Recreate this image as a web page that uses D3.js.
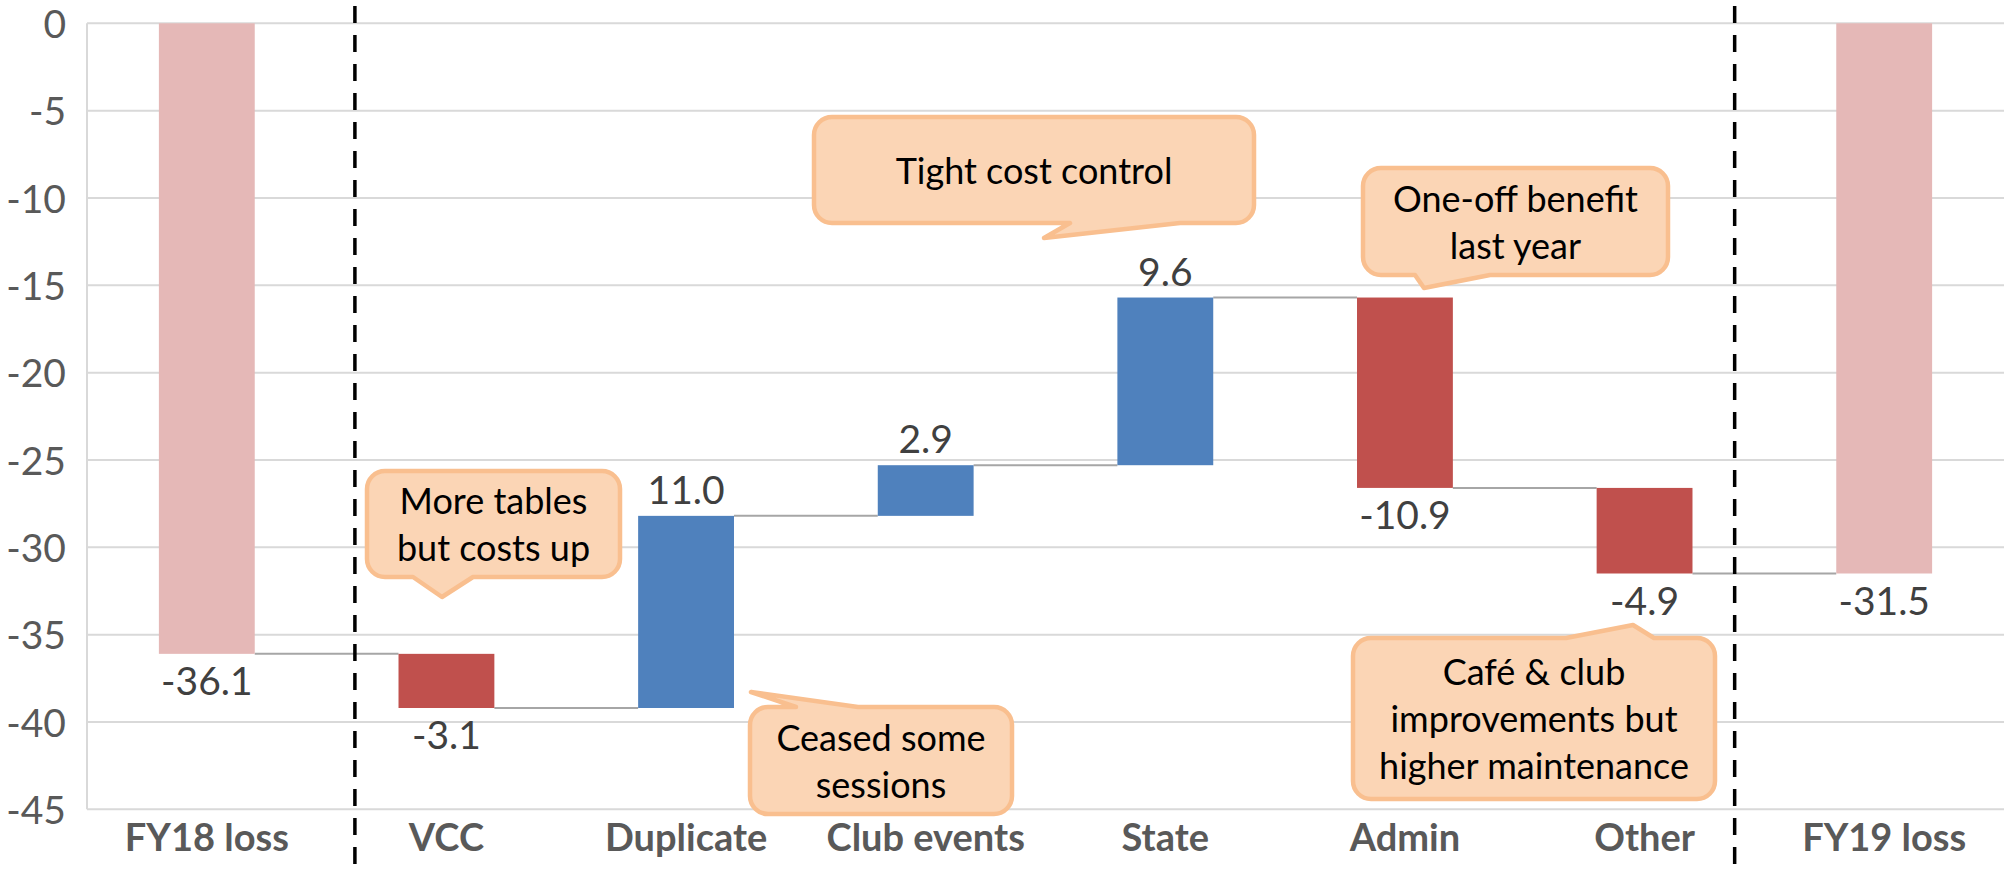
<!DOCTYPE html>
<html>
<head>
<meta charset="utf-8">
<script src="https://cdn.jsdelivr.net/npm/d3@7"></script>
<style>
  html, body { margin: 0; padding: 0; background: #fff; }
  svg { display: block; }
</style>
</head>
<body>
<svg id="chart" width="2006" height="876"></svg>
<script>
// ---- data ----
const categories = ["FY18 loss", "VCC", "Duplicate", "Club events", "State", "Admin", "Other", "FY19 loss"];
const changes    = [-36.1, -3.1, 11.0, 2.9, 9.6, -10.9, -4.9, -31.5];
const isTotal    = [true, false, false, false, false, false, false, true];
const labels     = ["-36.1", "-3.1", "11.0", "2.9", "9.6", "-10.9", "-4.9", "-31.5"];
const yTicks     = [0, -5, -10, -15, -20, -25, -30, -35, -40, -45];

const calloutTexts = [
  ["More tables", "but costs up"],
  ["Ceased some", "sessions"],
  ["Tight cost control"],
  ["One-off benefit", "last year"],
  ["Café & club", "improvements but", "higher maintenance"]
];

// ---- layout (annotation geometry, pixels) ----
const calloutLayout = [
  { x: 367,  y: 471, w: 253, h: 106, side: "bottom", b1: 413,  b2: 473,  tip: [442, 597] },
  { x: 750,  y: 707, w: 262, h: 107, side: "top",    b1: 796,  b2: 858,  tip: [751, 692] },
  { x: 814,  y: 117, w: 440, h: 106, side: "bottom", b1: 1070, b2: 1180, tip: [1044, 238] },
  { x: 1363, y: 168, w: 305, h: 107, side: "bottom", b1: 1415, b2: 1490, tip: [1424, 288] },
  { x: 1353, y: 638, w: 362, h: 161, side: "top",    b1: 1566, b2: 1654, tip: [1633, 625] }
];

const svg = d3.select("#chart");
const FONT = "Lato, 'Open Sans', sans-serif";

const x = d3.scaleBand().domain(categories).range([87, 2004]).paddingInner(0.6).paddingOuter(0.3);
const y = d3.scaleLinear().domain([-45, 0]).range([809.3, 23.3]);

// compute waterfall segments
let running = 0;
const bars = categories.map((c, i) => {
  let start, end;
  if (isTotal[i]) { start = 0; end = changes[i]; }
  else { start = running; end = running + changes[i]; }
  running = end;
  return { cat: c, start, end, value: changes[i], total: isTotal[i], label: labels[i] };
});

// gridlines
svg.append("g").selectAll("line").data(yTicks).join("line")
  .attr("x1", 87).attr("x2", 2004)
  .attr("y1", d => y(d)).attr("y2", d => y(d))
  .attr("stroke", "#D9D9D9").attr("stroke-width", 2);

// left axis line
svg.append("line").attr("x1", 87).attr("x2", 87)
  .attr("y1", y(0)).attr("y2", y(-45))
  .attr("stroke", "#D9D9D9").attr("stroke-width", 2);

// y tick labels
const yAxis = d3.axisLeft(y).tickValues(yTicks).tickSize(0).tickPadding(21).tickFormat(d3.format("d"));
const ga = svg.append("g").attr("transform", "translate(87,0)").call(yAxis);
ga.select(".domain").remove();
ga.selectAll("text").attr("font-family", FONT).attr("font-size", 39).attr("fill", "#595959")
  .attr("dy", "0.36em").text(d => d === 0 ? "0" : "-" + Math.abs(d));

// x labels
const xAxis = d3.axisBottom(x).tickSize(0).tickPadding(0);
const gx = svg.append("g").attr("transform", "translate(0,851)").call(xAxis);
gx.select(".domain").remove();
gx.selectAll("text").attr("font-family", FONT).attr("font-size", 38).attr("font-weight", "bold")
  .attr("fill", "#595959").attr("dy", 0).attr("y", 0);

// connectors
svg.append("g").selectAll("line").data(bars.slice(0, -1)).join("line")
  .attr("x1", (d) => x(d.cat) + x.bandwidth())
  .attr("x2", (d, i) => x(categories[i + 1]))
  .attr("y1", d => y(d.end)).attr("y2", d => y(d.end))
  .attr("stroke", "#A6A6A6").attr("stroke-width", 2);

// bars
svg.append("g").selectAll("rect").data(bars).join("rect")
  .attr("x", d => x(d.cat))
  .attr("width", x.bandwidth())
  .attr("y", d => y(Math.max(d.start, d.end)))
  .attr("height", d => Math.abs(y(d.start) - y(d.end)))
  .attr("fill", d => d.total ? "#E5B8B7" : (d.value < 0 ? "#C0504D" : "#4F81BD"));

// value labels
svg.append("g").selectAll("text").data(bars).join("text")
  .attr("x", d => x(d.cat) + x.bandwidth() / 2)
  .attr("y", d => d.value >= 0 ? y(Math.max(d.start, d.end)) - 12 : y(Math.min(d.start, d.end)) + 41)
  .attr("text-anchor", "middle")
  .attr("font-family", FONT).attr("font-size", 39).attr("fill", "#404040")
  .text(d => d.label);

// dashed separators
const step = x.step();
const sepX = [x("VCC") - 0.182 * step, x("FY19 loss") - 0.424 * step];
svg.append("g").selectAll("line").data(sepX).join("line")
  .attr("x1", d => d).attr("x2", d => d)
  .attr("y1", 6).attr("y2", 876)
  .attr("stroke", "#000").attr("stroke-width", 3.5)
  .attr("stroke-dasharray", "17 12");

// callouts
function calloutPath(c) {
  const r = 18, { x: bx, y: by, w, h } = c;
  const p = d3.path();
  if (c.side === "top") {
    p.moveTo(bx + r, by);
    p.lineTo(c.b1, by); p.lineTo(c.tip[0], c.tip[1]); p.lineTo(c.b2, by);
    p.lineTo(bx + w - r, by);
  } else {
    p.moveTo(bx + r, by);
    p.lineTo(bx + w - r, by);
  }
  p.arcTo(bx + w, by, bx + w, by + r, r);
  p.lineTo(bx + w, by + h - r);
  p.arcTo(bx + w, by + h, bx + w - r, by + h, r);
  if (c.side === "bottom") {
    p.lineTo(c.b2, by + h); p.lineTo(c.tip[0], c.tip[1]); p.lineTo(c.b1, by + h);
  }
  p.lineTo(bx + r, by + h);
  p.arcTo(bx, by + h, bx, by + h - r, r);
  p.lineTo(bx, by + r);
  p.arcTo(bx, by, bx + r, by, r);
  p.closePath();
  return p.toString();
}

const cg = svg.append("g").selectAll("g").data(calloutLayout).join("g");
cg.append("path").attr("d", d => calloutPath(d))
  .attr("fill", "#FBD5B5").attr("stroke", "#F9BF8F").attr("stroke-width", 4.5)
  .attr("stroke-linejoin", "round");
cg.each(function (d, i) {
  const lines = calloutTexts[i];
  const mid = d.y + d.h / 2;
  d3.select(this).selectAll("text").data(lines).join("text")
    .attr("x", d.x + d.w / 2)
    .attr("y", (t, j) => mid + 13.5 + (j - (lines.length - 1) / 2) * 47)
    .attr("text-anchor", "middle")
    .attr("font-family", FONT).attr("font-size", 36).attr("fill", "#000")
    .text(t => t);
});
</script>
</body>
</html>
